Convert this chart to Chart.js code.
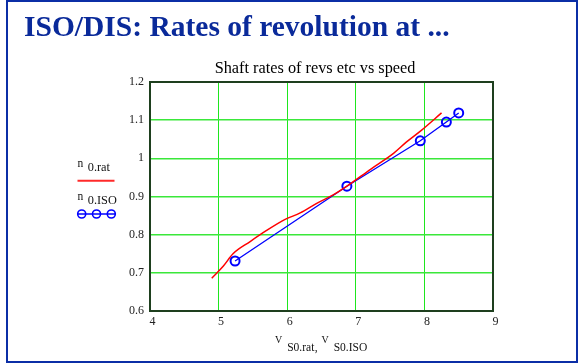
<!DOCTYPE html>
<html>
<head>
<meta charset="utf-8">
<script src="https://cdn.jsdelivr.net/npm/chart.js@4/dist/chart.umd.min.js"></script>
<style>
  html, body { margin: 0; padding: 0; background: #ffffff; }
  #wrap { width: 583px; height: 363px; position: relative; }
</style>
</head>
<body>
<div id="wrap"><canvas id="c" width="583" height="363"></canvas></div>
<script>
// ---- data ----
const ratSpeed = [4.90, 5.07, 5.21, 5.46, 5.70, 5.97, 6.19, 6.43, 6.67, 6.87, 7.22, 7.55, 7.74, 7.96, 8.25];
const ratRevs  = [0.686, 0.718, 0.750, 0.782, 0.811, 0.840, 0.857, 0.882, 0.904, 0.927, 0.972, 1.013, 1.043, 1.074, 1.119];
const isoSpeed = [5.24, 6.87, 7.94, 8.32, 8.50];
const isoRevs  = [0.731, 0.927, 1.046, 1.095, 1.119];
const xTickLabels = ['4', '5', '6', '7', '8', '9'];
const yTickLabels = ['0.6', '0.7', '0.8', '0.9', '1', '1.1', '1.2'];
const pageTitle = 'ISO/DIS: Rates of revolution at ...';
const chartTitle = 'Shaft rates of revs etc vs speed';

const SERIF = '"Liberation Serif", "Times New Roman", serif';

const ratPts = ratSpeed.map((x, i) => ({ x: x, y: ratRevs[i] }));
const isoPts = isoSpeed.map((x, i) => ({ x: x, y: isoRevs[i] }));

function subText(ctx, x, base, main, sub, mainSize, subSize, subDrop, gap) {
  ctx.font = mainSize + 'px ' + SERIF;
  ctx.fillText(main, x, base);
  x += ctx.measureText(main).width + gap;
  ctx.font = subSize + 'px ' + SERIF;
  ctx.fillText(sub, x, base + subDrop);
  return x + ctx.measureText(sub).width;
}

const decor = {
  id: 'decor',
  beforeDraw(chart) {
    const ctx = chart.ctx;
    ctx.save();
    ctx.fillStyle = '#ffffff';
    ctx.fillRect(0, 0, chart.width, chart.height);
    ctx.restore();
  },
  afterDraw(chart) {
    const ctx = chart.ctx;
    const a = chart.chartArea;
    ctx.save();
    // page frame
    ctx.strokeStyle = '#0b2ea6';
    ctx.lineWidth = 2;
    ctx.strokeRect(7, 1, 570, 361);
    // page title
    ctx.fillStyle = '#0a2a9a';
    ctx.font = 'bold 29.5px ' + SERIF;
    ctx.textBaseline = 'alphabetic';
    ctx.textAlign = 'left';
    ctx.fillText(pageTitle, 24, 36);
    // chart title
    ctx.fillStyle = '#000000';
    ctx.font = '16.3px ' + SERIF;
    ctx.textAlign = 'center';
    ctx.fillText(chartTitle, 315, 72.5);
    // plot border
    ctx.strokeStyle = '#1e3f1e';
    ctx.lineWidth = 2;
    ctx.strokeRect(a.left, a.top, a.right - a.left, a.bottom - a.top);
    // x axis title
    ctx.textAlign = 'left';
    ctx.fillStyle = '#111111';
    let x = subText(ctx, 275, 342.5, 'V', 'S0.rat', 10, 11.5, 8.5, 5);
    ctx.font = '11.5px ' + SERIF;
    ctx.fillText(',', x + 0.5, 351);
    subText(ctx, 321.5, 342.5, 'V', 'S0.ISO', 10, 11.5, 8.5, 5);
    // legend
    subText(ctx, 77.5, 166.5, 'n', '0.rat', 11.5, 12.3, 4, 4.5);
    ctx.strokeStyle = '#ff2a2a';
    ctx.lineWidth = 2;
    ctx.beginPath();
    ctx.moveTo(77.5, 180.7);
    ctx.lineTo(114.5, 180.7);
    ctx.stroke();
    ctx.fillStyle = '#111111';
    subText(ctx, 77.5, 200, 'n', '0.ISO', 11.5, 12.3, 4, 4.5);
    ctx.strokeStyle = '#0000ff';
    ctx.lineWidth = 1.3;
    ctx.beginPath();
    ctx.moveTo(77, 214);
    ctx.lineTo(115, 214);
    ctx.stroke();
    ctx.lineWidth = 1.6;
    [81.7, 96.5, 111.3].forEach(cx => {
      ctx.beginPath();
      ctx.arc(cx, 214, 4, 0, Math.PI * 2);
      ctx.stroke();
    });
    ctx.restore();
  }
};

new Chart(document.getElementById('c'), {
  type: 'scatter',
  data: {
    datasets: [
      {
        label: 'n 0.rat',
        data: ratPts,
        showLine: true,
        borderColor: '#ff0000',
        borderWidth: 1.5,
        pointRadius: 0,
        pointHoverRadius: 0,
        cubicInterpolationMode: 'monotone',
        fill: false
      },
      {
        label: 'n 0.ISO',
        data: isoPts,
        showLine: true,
        borderColor: '#0000ff',
        borderWidth: 1.3,
        pointRadius: 4.5,
        pointBorderWidth: 2,
        pointBorderColor: '#0000ff',
        pointBackgroundColor: 'rgba(0,0,0,0)',
        pointStyle: 'circle',
        tension: 0,
        fill: false
      }
    ]
  },
  options: {
    responsive: false,
    animation: false,
    devicePixelRatio: 1,
    layout: { padding: { left: 0, right: 90, top: 82, bottom: 32 } },
    plugins: {
      legend: { display: false },
      title: { display: false },
      tooltip: { enabled: false }
    },
    scales: {
      x: {
        type: 'linear',
        min: 4, max: 9,
        afterFit(s) { s.height = 20; },
        border: { display: false },
        grid: { color: '#1ee61e', lineWidth: 1, drawTicks: false },
        ticks: {
          stepSize: 1,
          padding: 4,
          labelOffset: 2.5,
          color: '#222222',
          font: { family: SERIF, size: 12 },
          maxRotation: 0,
          callback(v, i) { return xTickLabels[i]; }
        }
      },
      y: {
        type: 'linear',
        min: 0.6, max: 1.2,
        afterFit(s) { s.width = 150; },
        border: { display: false },
        grid: { color: '#3ae83a', lineWidth: 1.5, drawTicks: false },
        ticks: {
          stepSize: 0.1,
          padding: 6,
          color: '#222222',
          font: { family: SERIF, size: 12 },
          callback(v, i) { return yTickLabels[i]; }
        }
      }
    }
  },
  plugins: [decor]
});
</script>
</body>
</html>
